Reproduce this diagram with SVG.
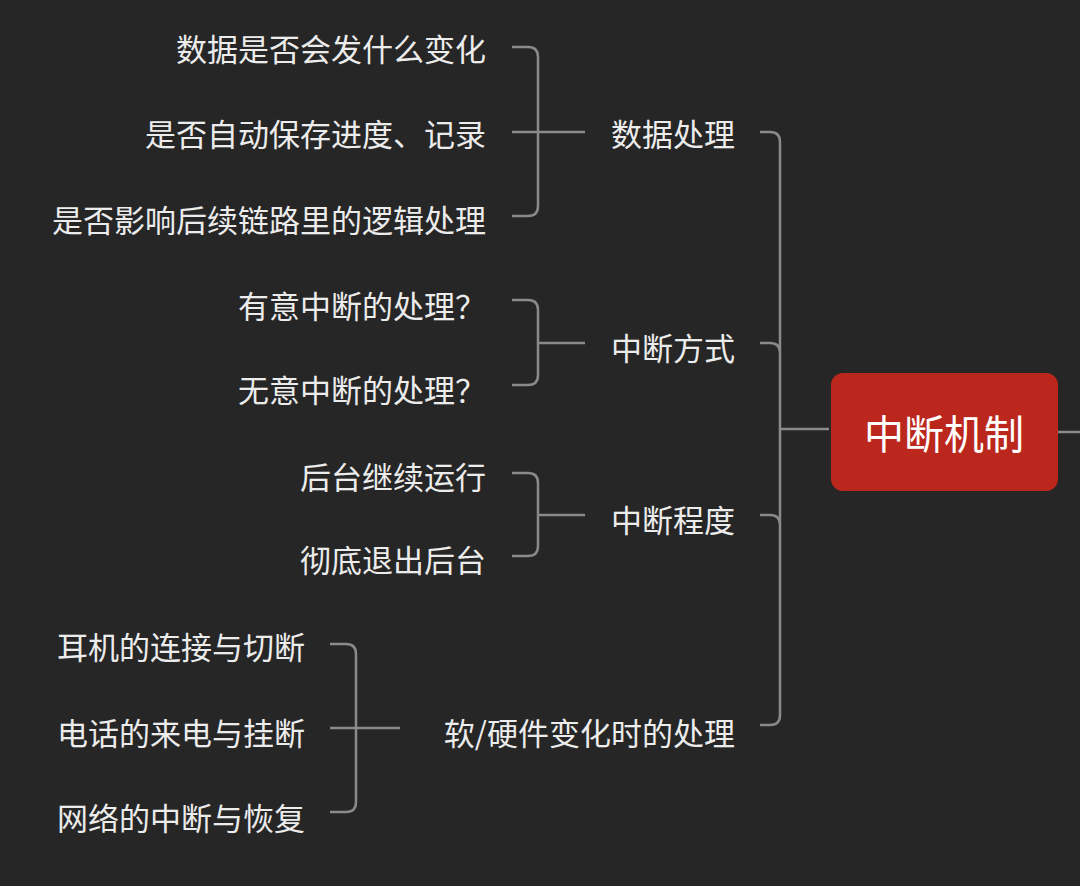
<svg xmlns="http://www.w3.org/2000/svg" width="1080" height="886" viewBox="0 0 1080 886">
<style>
.t{font-family:"Noto Sans CJK SC","Liberation Sans",sans-serif;font-size:31px;fill:#ececec;text-anchor:end;dominant-baseline:central}
.c{fill:none;stroke:#8a8a8a;stroke-width:2.5}
</style>
<rect width="1080" height="886" fill="#262626"/>
<g id="connectors">
<path class="c" d="M760 132 H770 Q780 132 780 142 V715 Q780 725 770 725 H760 M760 343 H770 Q780 343 780 353 M760 515 H770 Q780 515 780 525 M780 429 H829"/>
<path class="c" d="M1058 432 H1080"/>
<path class="c" d="M512 47 H528 Q538 47 538 57 V206 Q538 216 528 216 H512 M512 132 H585"/>
<path class="c" d="M512 300 H528 Q538 300 538 310 V375 Q538 385 528 385 H512 M538 343 H585"/>
<path class="c" d="M512 473 H528 Q538 473 538 483 V546 Q538 556 528 556 H512 M538 515 H585"/>
<path class="c" d="M330 644 H346 Q356 644 356 654 V802 Q356 812 346 812 H330 M330 728 H400"/>
</g>
<g id="root"><rect x="831" y="373" width="227" height="118" rx="12" fill="#bb271c"/><text x="944" y="432" style="font-family:'Noto Sans CJK SC',sans-serif;font-size:40px;fill:#fff;text-anchor:middle;dominant-baseline:central">中断机制</text></g>
<g id="n1"><text class="t" x="735" y="132">数据处理</text></g>
<g id="n2"><text class="t" x="735" y="346">中断方式</text></g>
<g id="n3"><text class="t" x="735" y="518">中断程度</text></g>
<g id="n4"><text class="t" x="735" y="731">软/硬件变化时的处理</text></g>
<g id="n11"><text class="t" x="486" y="47">数据是否会发什么变化</text></g>
<g id="n12"><text class="t" x="486" y="132">是否自动保存进度、记录</text></g>
<g id="n13"><text class="t" x="486" y="218">是否影响后续链路里的逻辑处理</text></g>
<g id="n21"><text class="t" x="486" y="304">有意中断的处理？</text></g>
<g id="n22"><text class="t" x="486" y="388">无意中断的处理？</text></g>
<g id="n31"><text class="t" x="486" y="475">后台继续运行</text></g>
<g id="n32"><text class="t" x="486" y="558">彻底退出后台</text></g>
<g id="n41"><text class="t" x="305" y="645">耳机的连接与切断</text></g>
<g id="n42"><text class="t" x="305" y="731">电话的来电与挂断</text></g>
<g id="n43"><text class="t" x="305" y="816">网络的中断与恢复</text></g>
</svg>
